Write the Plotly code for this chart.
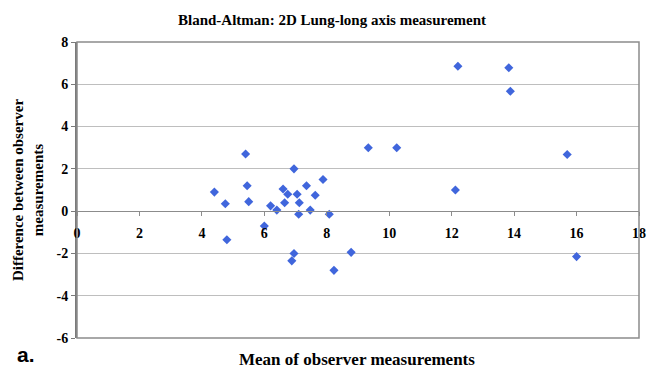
import plotly.graph_objects as go

# Data (mean of observers, difference between observers)
mean_vals = [4.4, 4.75, 4.8, 5.4, 5.45, 5.5, 6.0, 6.2, 6.4, 6.6, 6.65, 6.75, 6.95,
             6.95, 6.88, 7.05, 7.1, 7.12, 7.35, 7.47, 7.63, 7.88, 8.08, 8.23, 8.78,
             9.33, 10.24, 12.12, 12.2, 13.83, 13.88, 15.7, 16.0]
diff_vals = [0.9, 0.35, -1.35, 2.7, 1.2, 0.45, -0.7, 0.25, 0.05, 1.05, 0.4, 0.8, 2.0,
             -2.0, -2.35, 0.8, -0.15, 0.4, 1.2, 0.05, 0.75, 1.5, -0.15, -2.8, -1.95,
             3.0, 3.0, 1.0, 6.85, 6.78, 5.67, 2.68, -2.15]

x_ticks = [0, 2, 4, 6, 8, 10, 12, 14, 16, 18]
y_ticks = [-6, -4, -2, 0, 2, 4, 6, 8]

title_text = "Bland-Altman: 2D Lung-long axis measurement"
x_title = "Mean of observer measurements"
y_title = "Difference between observer<br>measurements"
panel_label = "a."

SERIF = "Liberation Serif"
y_min, y_max = -6, 8

fig = go.Figure()
fig.add_trace(go.Scatter(
    x=mean_vals, y=diff_vals, mode="markers",
    marker=dict(symbol="diamond", size=7, color="#4066DC",
                line=dict(width=0)),
    showlegend=False, hoverinfo="x+y",
))

fig.update_layout(
    width=658, height=371,
    margin=dict(l=77, r=17, t=42, b=33),
    paper_bgcolor="white", plot_bgcolor="white",
    xaxis=dict(
        range=[0, 18], tickvals=x_ticks, ticktext=[str(v) for v in x_ticks],
        anchor="free", position=(0 - y_min) / (y_max - y_min),
        showgrid=False, zeroline=False,
        showline=True, linecolor="#8C8C8C", linewidth=1,
        ticks="outside", ticklen=4, tickcolor="#8C8C8C",
        ticklabelstandoff=5,
        tickfont=dict(family=SERIF, size=14, color="black", weight="bold"),
    ),
    yaxis=dict(
        range=[y_min, y_max], tickvals=y_ticks, ticktext=[str(v) for v in y_ticks],
        showgrid=True, gridcolor="#BEBEBE", gridwidth=1,
        zeroline=False,
        showline=True, linecolor="#7A7A7A", linewidth=2,
        ticks="outside", ticklen=4, tickcolor="#7A7A7A",
        tickfont=dict(family=SERIF, size=14, color="black", weight="bold"),
    ),
    shapes=[dict(type="rect", xref="x domain", yref="y domain",
                 x0=0, x1=1, y0=0, y1=1,
                 line=dict(color="#8C8C8C", width=1.5), layer="above")],
    annotations=[
        dict(text=title_text, xref="paper", yref="paper", x=0.454, y=1.074,
             xanchor="center", yanchor="middle", showarrow=False,
             font=dict(family=SERIF, size=15, color="black", weight="bold")),
        dict(text=x_title, xref="paper", yref="paper", x=0.498, y=-0.074,
             xanchor="center", yanchor="middle", showarrow=False,
             font=dict(family=SERIF, size=17, color="black", weight="bold")),
        dict(text=y_title, xref="paper", yref="paper", x=-0.087, y=0.5,
             xanchor="center", yanchor="middle", showarrow=False, textangle=-90,
             font=dict(family=SERIF, size=15, color="black", weight="bold")),
        dict(text=panel_label, xref="paper", yref="paper", x=-0.090, y=-0.057,
             xanchor="center", yanchor="middle", showarrow=False,
             font=dict(family="Liberation Sans", size=21, color="black", weight="bold")),
    ],
)

fig.write_html("out.html")
